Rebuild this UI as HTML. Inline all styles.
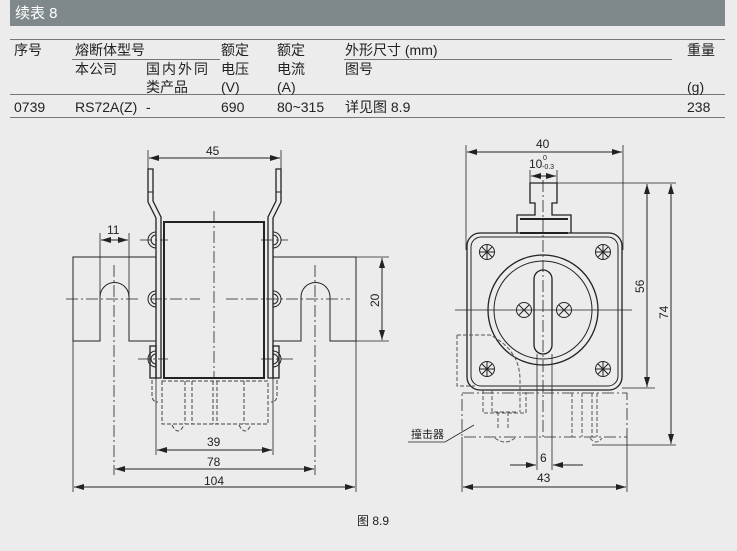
<!DOCTYPE html>
<html><head><meta charset="utf-8"><style>
html,body{margin:0;padding:0;background:#ececec;}
body{width:737px;height:551px;overflow:hidden;position:relative;}
svg{position:absolute;left:0;top:0;}
.t{font-family:"Liberation Sans Narrow","Liberation Sans","Noto Sans CJK SC",sans-serif;font-size:14px;fill:#222;}
.d{font-family:"Liberation Sans","Noto Sans CJK SC",sans-serif;font-size:12px;fill:#222;}
</style></head><body>
<svg width="737" height="551" viewBox="0 0 737 551">
<defs>
<marker id="a" viewBox="0 0 10 6" refX="10" refY="3" markerWidth="10" markerHeight="6" orient="auto-start-reverse" markerUnits="userSpaceOnUse"><path d="M0,0L10,3L0,6z" fill="#222"/></marker>
</defs>
<rect x="10" y="0" width="715" height="26" fill="#7f898c"/>
<text x="15" y="18" font-family="Liberation Sans Narrow,Liberation Sans,Noto Sans CJK SC,sans-serif" font-size="15" fill="#fff">续表 8</text>
<g stroke="#777" stroke-width="1">
<line x1="10" y1="39.5" x2="725" y2="39.5"/>
<line x1="72" y1="59.5" x2="220" y2="59.5"/>
<line x1="344" y1="59.5" x2="672" y2="59.5"/>
<line x1="10" y1="94.5" x2="725" y2="94.5"/>
<line x1="10" y1="117.5" x2="725" y2="117.5"/>
</g>
<g class="t">
<text x="14" y="55">序号</text><text x="75" y="55">熔断体型号</text><text x="221" y="55">额定</text><text x="277" y="55">额定</text><text x="345" y="55">外形尺寸 (mm)</text><text x="687" y="55">重量</text>
<text x="75" y="74">本公司</text><text x="146" y="74" letter-spacing="2">国内外同</text><text x="221" y="74">电压</text><text x="277" y="74">电流</text><text x="345" y="74">图号</text>
<text x="146" y="92">类产品</text><text x="221" y="92">(V)</text><text x="277" y="92">(A)</text><text x="687" y="92">(g)</text>
<text x="14" y="112">0739</text><text x="75" y="112">RS72A(Z)</text><text x="146" y="112">-</text><text x="221" y="112">690</text><text x="277" y="112">80~315</text><text x="345" y="112">详见图 8.9</text><text x="687" y="112">238</text>
</g>

<g fill="none" stroke="#222" stroke-width="1">
<path d="M156,257H73V341H100V297A14.5,14.5 0 0 1 129,297V341H156"/>
<path d="M273,257H356V341H330V297A14.5,14.5 0 0 0 301,297V341H273"/>
<path d="M148,169H153V201L161,217V378H156V218L148,202Z" stroke-width="1.3"/>
<line x1="148" y1="192" x2="153" y2="192"/>
<path d="M281,169H276V201L268,217V378H273V218L281,202Z" stroke-width="1.3"/>
<line x1="276" y1="192" x2="281" y2="192"/>
<rect x="164" y="222" width="100" height="156" stroke-width="2"/>
<path d="M156,232A8,8 0 0 0 156,248M156,235A5,5 0 0 0 156,245"/>
<path d="M156,291A8,8 0 0 0 156,307M156,294A5,5 0 0 0 156,304"/>
<path d="M156,351A8,8 0 0 0 156,367M156,354A5,5 0 0 0 156,364"/>
<path d="M273,232A8,8 0 0 1 273,248M273,235A5,5 0 0 1 273,245"/>
<path d="M273,291A8,8 0 0 1 273,307M273,294A5,5 0 0 1 273,304"/>
<path d="M273,351A8,8 0 0 1 273,367M273,354A5,5 0 0 1 273,364"/>
<rect x="150" y="346" width="6" height="32" stroke-width="1.3"/>
<rect x="273" y="346" width="6" height="32" stroke-width="1.3"/>
<g stroke="#444" stroke-dasharray="4,2">
<rect x="162" y="381" width="106" height="43"/>
<line x1="185" y1="381" x2="185" y2="424"/><line x1="192" y1="381" x2="192" y2="424"/>
<line x1="213" y1="381" x2="213" y2="424"/><line x1="217" y1="381" x2="217" y2="424"/>
<line x1="244" y1="381" x2="244" y2="424"/>
<path d="M152,380V395Q152,402 158,402"/><path d="M277,380V395Q277,402 271,402"/>
<path d="M172,425Q178,437 184,425M239,425Q245,437 251,425"/>
</g>
<g stroke-dasharray="12,3,2,3" stroke-width="0.8">
<line x1="214" y1="211" x2="214" y2="378"/>
<line x1="66" y1="299" x2="140" y2="299"/><line x1="150" y1="299" x2="200" y2="299"/>
<line x1="226" y1="299" x2="350" y2="299"/>
<line x1="114" y1="265" x2="114" y2="475"/><line x1="315" y1="265" x2="315" y2="475"/>
<line x1="140" y1="240" x2="168" y2="240"/><line x1="261" y1="240" x2="288" y2="240"/>
<line x1="138" y1="359" x2="168" y2="359"/><line x1="261" y1="359" x2="293" y2="359"/>
</g>
<line x1="148" y1="150" x2="148" y2="169" stroke-width="0.8"/><line x1="281" y1="150" x2="281" y2="169" stroke-width="0.8"/>
<line x1="149" y1="158" x2="280" y2="158" marker-start="url(#a)" marker-end="url(#a)"/>
<line x1="100" y1="233" x2="100" y2="297" stroke-width="0.8"/><line x1="129" y1="233" x2="129" y2="297" stroke-width="0.8"/>
<line x1="101" y1="240" x2="128" y2="240" marker-start="url(#a)" marker-end="url(#a)"/>
<line x1="356" y1="257" x2="389" y2="257" stroke-width="0.8"/><line x1="356" y1="341" x2="389" y2="341" stroke-width="0.8"/>
<line x1="382" y1="258" x2="382" y2="340" marker-start="url(#a)" marker-end="url(#a)"/>
<line x1="156" y1="378" x2="156" y2="455" stroke-width="0.8"/><line x1="273" y1="378" x2="273" y2="455" stroke-width="0.8"/>
<line x1="157" y1="450" x2="272" y2="450" marker-start="url(#a)" marker-end="url(#a)"/>
<line x1="115" y1="469" x2="314" y2="469" marker-start="url(#a)" marker-end="url(#a)"/>
<line x1="73" y1="341" x2="73" y2="492" stroke-width="0.8"/><line x1="356" y1="341" x2="356" y2="492" stroke-width="0.8"/>
<line x1="74" y1="487" x2="355" y2="487" marker-start="url(#a)" marker-end="url(#a)"/>
</g>
<g class="d">
<text x="206" y="155">45</text><text x="107" y="234">11</text>
<text x="207" y="446">39</text><text x="207" y="466">78</text><text x="204" y="485">104</text>
<text transform="translate(379,307) rotate(-90)">20</text>
</g>

<g fill="none" stroke="#222" stroke-width="1">
<path d="M517,233V215H535V203H530V183H557V203H552V215H571V233" stroke-width="1.3"/>
<line x1="520" y1="219" x2="568" y2="219" stroke-width="2"/><line x1="520" y1="233" x2="568" y2="233" stroke-width="2"/>
<rect x="467" y="233" width="155" height="157" rx="13" stroke-width="1.3"/>
<rect x="471" y="237" width="147" height="149" rx="10"/>
<circle cx="543" cy="310" r="55" stroke-width="1.3"/><circle cx="543" cy="310" r="49"/>
<rect x="534" y="270" width="18" height="84" rx="9" stroke-width="1.3"/>
<g>
<circle cx="487" cy="252" r="7.5"/><path d="M479.5,252H494.5M487,244.5V259.5M482,247L492,257M492,247L482,257"/>
<circle cx="603" cy="252" r="7.5"/><path d="M595.5,252H610.5M603,244.5V259.5M598,247L608,257M608,247L598,257"/>
<circle cx="487" cy="369" r="7.5"/><path d="M479.5,369H494.5M487,361.5V376.5M482,364L492,374M492,364L482,374"/>
<circle cx="603" cy="369" r="7.5"/><path d="M595.5,369H610.5M603,361.5V376.5M598,364L608,374M608,364L598,374"/>
<circle cx="524" cy="310" r="7.5"/><path d="M519,305L529,315M529,305L519,315"/>
<circle cx="564" cy="310" r="7.5"/><path d="M559,305L569,315M569,305L559,315"/>
</g>
<line x1="455" y1="310" x2="632" y2="310" stroke-width="0.8"/>
<g stroke-dasharray="12,3,2,3" stroke-width="0.8">
<line x1="543" y1="180" x2="543" y2="440"/>
<rect x="462" y="393" width="165" height="44"/>
</g>
<g stroke="#555" stroke-dasharray="4,2">
<path d="M457,335H490Q520,350 520,380V412"/>
<path d="M457,335V386H475"/>
<path d="M483,390V413H526V392"/><path d="M492,390V412H516"/>
<path d="M498,412V428"/><path d="M508,412V428"/>
<path d="M572,393V437M592,393V437M582,393V437M597,393V437"/>
<path d="M495,438Q505,446 515,438M590,438Q596,446 602,438"/>
</g>
<line x1="466" y1="145" x2="466" y2="250" stroke-width="0.8"/><line x1="623" y1="145" x2="623" y2="250" stroke-width="0.8"/>
<line x1="467" y1="152" x2="622" y2="152" marker-start="url(#a)" marker-end="url(#a)"/>
<line x1="530" y1="170" x2="530" y2="183" stroke-width="0.8"/><line x1="557" y1="170" x2="557" y2="183" stroke-width="0.8"/>
<line x1="531" y1="176" x2="556" y2="176" marker-start="url(#a)" marker-end="url(#a)"/>
<line x1="557" y1="183" x2="676" y2="183" stroke-width="0.8"/>
<line x1="622" y1="388" x2="655" y2="388" stroke-width="0.8"/>
<line x1="647" y1="184" x2="647" y2="387" marker-start="url(#a)" marker-end="url(#a)"/>
<line x1="592" y1="445" x2="676" y2="445" stroke-width="0.8"/>
<line x1="671" y1="184" x2="671" y2="444" marker-start="url(#a)" marker-end="url(#a)"/>
<line x1="537" y1="354" x2="537" y2="470" stroke-width="0.8"/><line x1="552" y1="354" x2="552" y2="470" stroke-width="0.8"/>
<line x1="510" y1="465" x2="536" y2="465" marker-end="url(#a)"/><line x1="583" y1="465" x2="553" y2="465" marker-end="url(#a)"/>
<line x1="462" y1="437" x2="462" y2="492" stroke-width="0.8"/><line x1="627" y1="437" x2="627" y2="492" stroke-width="0.8"/>
<line x1="463" y1="487" x2="626" y2="487" marker-start="url(#a)" marker-end="url(#a)"/>
<path d="M408,442H445L474,425" stroke-width="0.8"/>
</g>
<g class="d">
<text x="536" y="148">40</text>
<text x="529" y="168">10</text><text x="543" y="160" font-size="7">0</text><text x="542" y="169" font-size="7">-0.3</text>
<text transform="translate(644,293) rotate(-90)">56</text>
<text transform="translate(668,319) rotate(-90)">74</text>
<text x="540" y="462">6</text><text x="537" y="482">43</text>
<text x="411" y="438" font-size="11">撞击器</text>
<text x="357" y="525" font-size="12">图 8.9</text>
</g>
</svg>
</body></html>
